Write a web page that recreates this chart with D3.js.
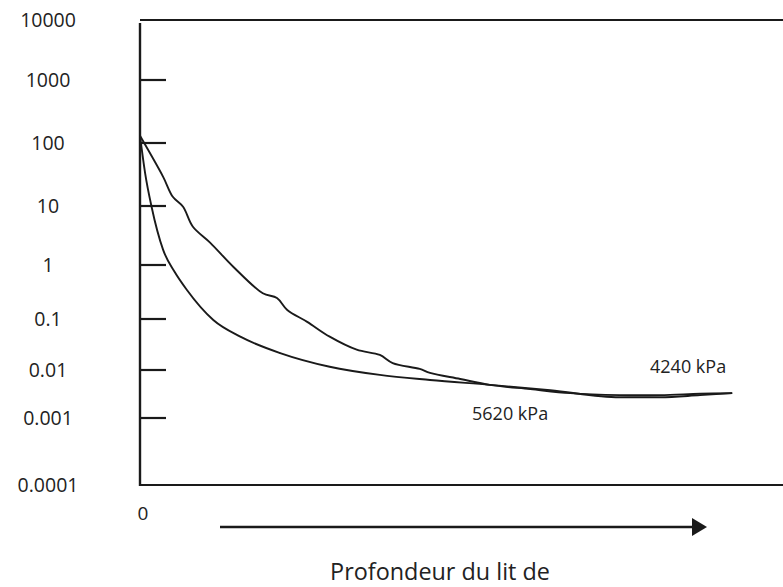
<!DOCTYPE html>
<html>
<head>
<meta charset="utf-8">
<script src="https://cdn.jsdelivr.net/npm/d3@7"></script>
<style>
  html, body { margin: 0; padding: 0; background: #fff; }
  svg { display: block; font-family: "Open Sans", Lato, sans-serif; }
</style>
</head>
<body>
<svg id="chart" width="783" height="587"></svg>
<script>
// decade ticks of the hand-drawn log axis (not evenly spaced in the original)
const yTicks = [10000, 1000, 100, 10, 1, 0.1, 0.01, 0.001, 0.0001];
const yTickLabels = ["10000", "1000", "100", "10", "1", "0.1", "0.01", "0.001", "0.0001"];

// depth (arbitrary units, 0 at the axis)
const depth4240 = [0, 3.6, 5.1, 6.7, 8.2, 10.9, 14.5, 19.1, 21.3, 22.9, 26, 29.5, 33.7, 37.3, 39.3, 43.5, 45.1, 49.8, 54.4, 60.7, 66.9, 74.6, 80.9, 87.1, 92.1];
const value4240 = [130, 29, 14, 9.7, 4.5, 2.4, 0.93, 0.30, 0.245, 0.147, 0.088, 0.045, 0.025, 0.0197, 0.0137, 0.0105, 0.0087, 0.0065, 0.0049, 0.0040, 0.0033, 0.0030, 0.0030, 0.0032, 0.0033];

const depth5620 = [0, 0.8, 1.8, 3.6, 5.4, 7.3, 11.4, 15.6, 21.8, 29.5, 37.3, 45.1, 54.4, 63.8, 74.6, 80.9, 87.1, 92.1];
const value5620 = [130, 33, 9.7, 1.8, 0.74, 0.344, 0.0955, 0.045, 0.0215, 0.0116, 0.0079, 0.0062, 0.0049, 0.0038, 0.0027, 0.0027, 0.0030, 0.0033];

const svg = d3.select("#chart");
const x0 = 140, xEnd = 783;

const x = d3.scaleLinear().domain([0, 100]).range([x0, xEnd]);
// piecewise log scale, one segment per decade as drawn
const y = d3.scaleLog()
  .domain(yTicks)
  .range([20, 80, 143, 206, 265, 319, 370, 418, 485]);

const ink = "#1a1a1a";
const textInk = "#222";

// frame: top line, vertical axis, bottom axis
svg.append("line")
  .attr("x1", x0).attr("x2", xEnd)
  .attr("y1", y(10000)).attr("y2", y(10000))
  .attr("stroke", ink).attr("stroke-width", 2.2);
svg.append("line")
  .attr("x1", x0).attr("x2", x0)
  .attr("y1", y(10000) + 3).attr("y2", y(0.0001) + 1)
  .attr("stroke", ink).attr("stroke-width", 2.4);
svg.append("line")
  .attr("x1", x0 - 1).attr("x2", xEnd)
  .attr("y1", y(0.0001)).attr("y2", y(0.0001))
  .attr("stroke", ink).attr("stroke-width", 2.2);

// tick marks (inner decades only)
svg.append("g")
  .selectAll("line")
  .data(yTicks.slice(1, -1))
  .join("line")
  .attr("x1", x0).attr("x2", x0 + 26)
  .attr("y1", d => y(d)).attr("y2", d => y(d))
  .attr("stroke", ink).attr("stroke-width", 2.2);

// tick labels
svg.append("g")
  .attr("text-anchor", "middle")
  .attr("font-size", 19.5)
  .attr("fill", textInk)
  .selectAll("text")
  .data(yTicks)
  .join("text")
  .attr("x", 48)
  .attr("y", d => y(d))
  .attr("dy", "0.36em")
  .text((d, i) => yTickLabels[i]);

svg.append("text")
  .attr("x", x(0) + 3).attr("y", 520)
  .attr("text-anchor", "middle")
  .attr("font-size", 19)
  .attr("fill", textInk)
  .text("0");

// curves
const line = d3.line()
  .x(d => x(d[0]))
  .y(d => y(d[1]));

svg.append("path")
  .datum(d3.zip(depth4240, value4240))
  .attr("fill", "none")
  .attr("stroke", ink)
  .attr("stroke-width", 1.9)
  .attr("d", line.curve(d3.curveCatmullRom));

svg.append("path")
  .datum(d3.zip(depth5620, value5620))
  .attr("fill", "none")
  .attr("stroke", ink)
  .attr("stroke-width", 1.9)
  .attr("d", line.curve(d3.curveMonotoneX));

// curve labels
svg.append("text")
  .attr("x", 650).attr("y", 373)
  .attr("font-size", 18).attr("fill", textInk)
  .text("4240 kPa");
svg.append("text")
  .attr("x", 472).attr("y", 420)
  .attr("font-size", 18).attr("fill", textInk)
  .text("5620 kPa");

// depth arrow and caption
svg.append("line")
  .attr("x1", 220).attr("x2", 694)
  .attr("y1", 527).attr("y2", 527)
  .attr("stroke", ink).attr("stroke-width", 2.4);
svg.append("path")
  .attr("d", "M692,518 L707,527 L692,536 Z")
  .attr("fill", ink);

svg.append("text")
  .attr("x", 440).attr("y", 580)
  .attr("text-anchor", "middle")
  .attr("font-size", 23.4)
  .attr("fill", textInk)
  .text("Profondeur du lit de");
</script>
</body>
</html>
